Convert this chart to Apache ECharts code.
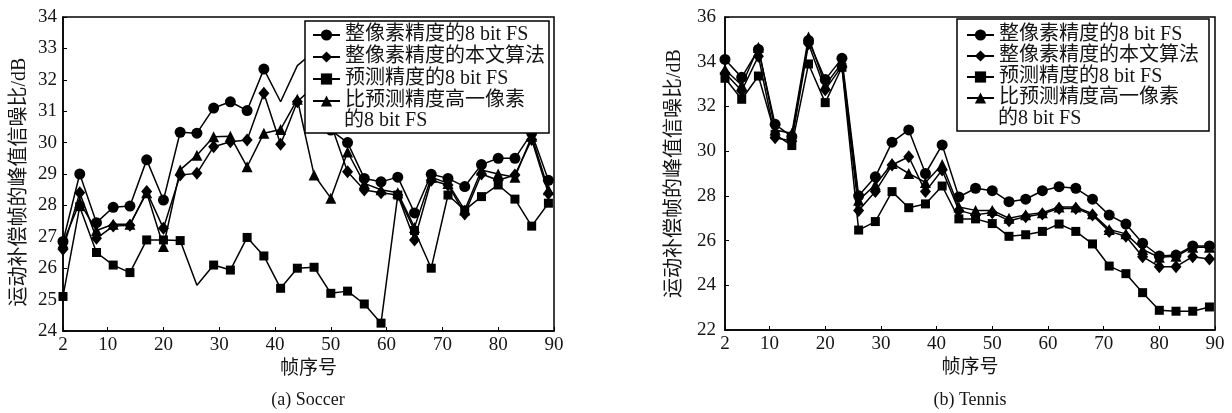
<!DOCTYPE html>
<html>
<head>
<meta charset="utf-8">
<script src="https://cdn.jsdelivr.net/npm/echarts@6/dist/echarts.min.js"></script>
<style>
html,body{margin:0;padding:0;background:#fff;}
#c{width:1232px;height:413px;}
</style>
</head>
<body>
<div id="c"></div>
<script>
// ---------- data ----------
const frames = [2,5,8,11,14,17,20,23,26,29,32,35,38,41,44,47,50,53,56,59,62,65,68,71,74,77,80,83,86,89];
const xTicks = [2,10,20,30,40,50,60,70,80,90];
const seriesNames = ['整像素精度的8 bit FS','整像素精度的本文算法','预测精度的8 bit FS','比预测精度高一像素的8 bit FS'];

// (a) Soccer
const soccerInt8 = [26.85,29.0,27.45,27.94,27.98,29.45,28.17,30.33,30.3,31.1,31.3,31.02,32.34,31.3,32.45,32.9,30.4,30.0,28.86,28.75,28.9,27.76,28.99,28.86,28.6,29.3,29.5,29.5,30.3,28.8];
const soccerIntOurs = [26.6,28.4,26.95,27.34,27.37,28.44,27.27,28.97,29.02,29.87,30.03,30.08,31.57,29.95,31.3,31.8,30.6,29.07,28.49,28.4,28.33,26.9,28.8,28.65,27.73,29.0,28.8,28.97,30.1,28.38];
const soccerPred8 = [25.1,27.96,26.5,26.1,25.86,26.9,26.9,26.88,25.46,26.1,25.94,26.98,26.39,25.36,26.0,26.03,25.2,25.27,24.86,24.25,28.33,27.2,26.0,28.33,27.85,28.28,28.65,28.2,27.34,28.07];
const soccerHigher8 = [26.8,28.1,27.2,27.4,27.4,28.4,26.69,29.13,29.6,30.19,30.2,29.23,30.3,30.42,31.38,28.97,28.23,29.7,28.7,28.5,28.4,27.3,28.9,28.7,27.85,29.13,29.0,28.9,30.2,28.5];
// (b) Tennis
const tennisInt8 = [34.1,33.3,34.55,31.2,30.65,34.95,33.2,34.15,28.0,28.85,30.4,30.95,29.0,30.28,27.95,28.34,28.23,27.74,27.85,28.23,28.41,28.34,27.85,27.14,26.74,25.88,25.31,25.35,25.76,25.76];
const tennisIntOurs = [33.5,32.7,34.25,30.6,30.45,34.8,32.75,33.8,27.35,28.2,29.38,29.75,28.19,29.16,27.35,27.15,27.25,26.89,27.07,27.19,27.44,27.44,27.14,26.41,26.19,25.28,24.83,24.83,25.28,25.18];
const tennisPred8 = [33.26,32.32,33.36,30.75,30.25,33.9,32.17,33.75,26.47,26.85,28.19,27.47,27.64,28.44,26.97,26.97,26.76,26.19,26.26,26.41,26.74,26.41,25.85,24.86,24.52,23.67,22.88,22.84,22.84,23.03];
const tennisHigher8 = [33.65,32.95,34.65,30.95,30.8,35.1,32.95,33.95,27.8,28.5,29.45,29.0,28.6,29.4,27.5,27.35,27.35,27.0,27.15,27.25,27.5,27.5,27.2,26.5,26.3,25.6,25.25,25.3,25.7,25.7];

// points drawn in the reference without a marker
const soccerNoMarker = {0: [41, 44], 2: [26]};

// ---------- styles ----------
const SERIF = '"Liberation Serif","Noto Sans CJK SC",serif';
const TXT = '#151515';
const marks = [
  {symbol:'circle', symbolSize:11},
  {symbol:'diamond', symbolSize:[11,13]},
  {symbol:'rect', symbolSize:9},
  {symbol:'triangle', symbolSize:11}
];

function mkData(vals, hidden) {
  return frames.map((f, i) => {
    if (hidden && hidden.indexOf(f) >= 0) return {value:[f, vals[i]], symbol:'none'};
    return [f, vals[i]];
  });
}

function mkSeries(idx, sets, noMark) {
  return sets.map((vals, k) => ({
    name: seriesNames[k],
    type: 'line',
    xAxisIndex: idx, yAxisIndex: idx,
    symbol: marks[k].symbol,
    symbolSize: marks[k].symbolSize,
    data: mkData(vals, noMark ? noMark[k] : null),
    lineStyle: {color:'#000', width:1.5},
    itemStyle: {color:'#000'},
    emphasis: {disabled:true},
    animation: false
  }));
}

function xAxis(idx) {
  return {
    type:'value', gridIndex: idx, min: 2, max: 90,
    name:'帧序号', nameLocation:'middle', nameGap: 22,
    nameTextStyle:{fontFamily:SERIF, fontSize:19, color:TXT},
    axisLine:{show:true, lineStyle:{color:'#000', width:1.5}},
    axisTick:{show:true, inside:true, length:4, customValues: xTicks, lineStyle:{color:'#000'}},
    axisLabel:{customValues: xTicks, margin:5, fontFamily:SERIF, fontSize:19, color:TXT},
    splitLine:{show:false}
  };
}
function yAxis(idx, min, max, interval, gap, pad, margin) {
  return {
    type:'value', gridIndex: idx, min:min, max:max, interval:interval,
    name:'运动补偿帧的峰值信噪比/dB', nameLocation:'middle', nameGap: gap,
    nameTextStyle:{fontFamily:SERIF, fontSize:20, color:TXT, padding: pad},
    axisLine:{show:true, lineStyle:{color:'#000', width:1.5}},
    axisTick:{show:true, inside:true, length:4, lineStyle:{color:'#000'}},
    axisLabel:{margin:margin, fontFamily:SERIF, fontSize:19, color:TXT},
    splitLine:{show:false}
  };
}
function legend(left, top, pad, gap) {
  return {
    zlevel:1, z:10,
    left:left, top:top, orient:'vertical',
    itemWidth:27, itemHeight:14, itemGap:gap,
    padding: pad,
    borderWidth:0, backgroundColor:'transparent',
    selectedMode:false,
    textStyle:{fontFamily:SERIF, fontSize:20, lineHeight:21, color:TXT},
    formatter: n => n === seriesNames[3] ? '比预测精度高一像素' : n,
    data: seriesNames.slice()
  };
}
function box(x, y, w, h) {
  return {type:'rect', zlevel:1, z:1, shape:{x:x, y:y, width:w, height:h},
          style:{fill:'#fff', stroke:'#000', lineWidth:1.5}};
}
function txt(x, y, s, size, align) {
  return {type:'text', zlevel:1, z:20, x:x, y:y,
          style:{text:s, fontFamily:SERIF, fontSize:size, fill:TXT, align:align, verticalAlign:'middle'}};
}

const chart = echarts.init(document.getElementById('c'), null, {renderer:'canvas'});
chart.setOption({
  backgroundColor:'#fff',
  animation:false,
  grid:[
    {left:63, top:17, width:491, height:314, show:true, borderColor:'#000', borderWidth:1.5},
    {left:725, top:17, width:490, height:313, show:true, borderColor:'#000', borderWidth:1.5}
  ],
  xAxis:[xAxis(0), xAxis(1)],
  yAxis:[yAxis(0, 24, 34, 1, 33, [0,16,0,0], 6), yAxis(1, 22, 36, 2, 40, [0,0,0,0], 9)],
  legend:[legend(305, 21, [3.5,5,21.5,7], 1), legend(957, 19, [5.5,11,22.5,9], 0)],
  series: [].concat(
    mkSeries(0, [soccerInt8, soccerIntOurs, soccerPred8, soccerHigher8], soccerNoMarker),
    mkSeries(1, [tennisInt8, tennisIntOurs, tennisPred8, tennisHigher8], null)
  ),
  graphic:[
    box(305, 21, 244, 112),
    box(957, 19, 252, 112),
    txt(305+7+27+5, 121, '的8 bit FS', 20, 'left'),
    txt(957+9+27+5, 119, '的8 bit FS', 20, 'left'),
    txt(308, 400, '(a) Soccer', 18, 'center'),
    txt(970, 400, '(b) Tennis', 18, 'center')
  ]
});
</script>
</body>
</html>
